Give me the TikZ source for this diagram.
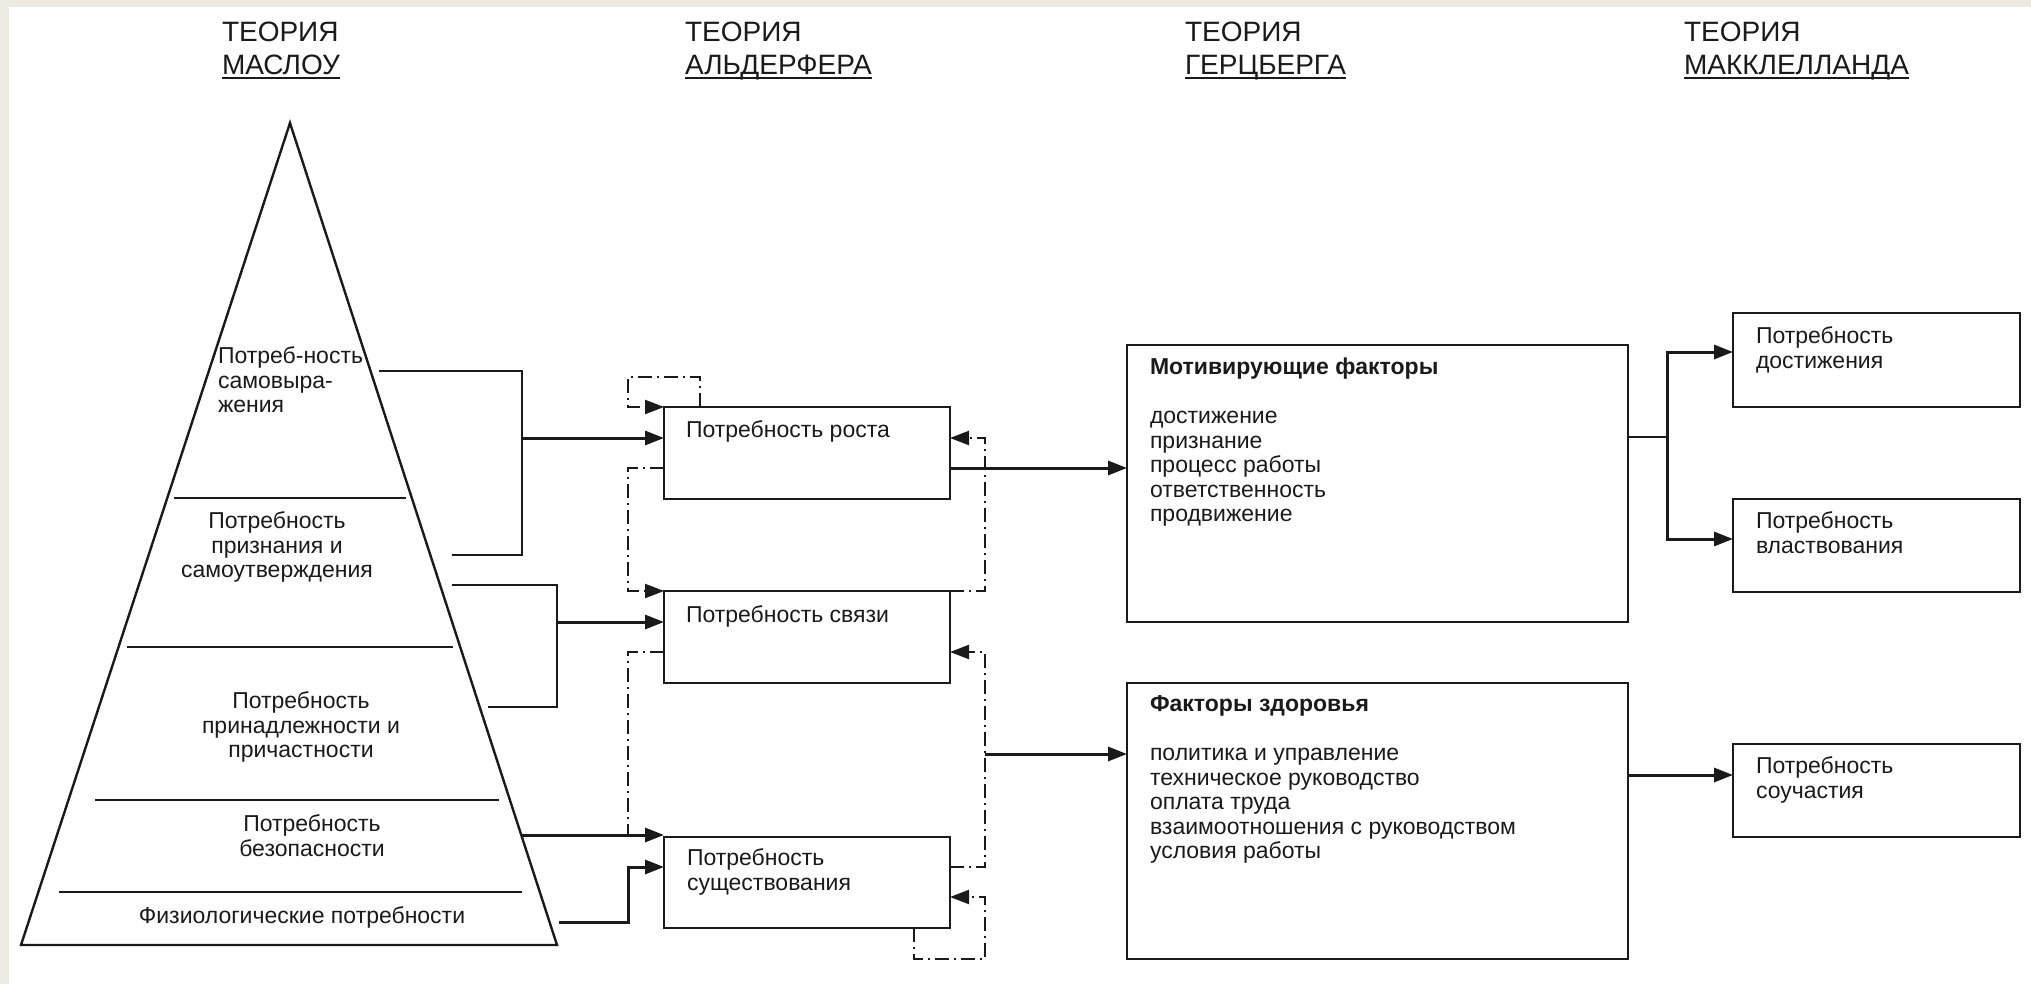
\documentclass[tikz,border=0pt]{standalone}
\usepackage{fontspec}
\setmainfont{Liberation Sans}
\usetikzlibrary{arrows.meta}
\definecolor{ink}{HTML}{1A1A1A}
\definecolor{frame}{HTML}{EEEBE3}

\begin{document}
\begin{tikzpicture}[x=1pt,y=-1pt,
  box/.style={draw=ink, line width=2.7pt, rectangle, inner sep=0pt, outer sep=0pt, anchor=north west},
  txt/.style={inner sep=0pt, outer sep=0pt, text=ink, font=\fontsize{23}{24.5}\selectfont},
  head/.style={inner sep=0pt, outer sep=0pt, text=ink, font=\fontsize{28}{30}\selectfont, anchor=base west},
  conn/.style={draw=ink, line width=2.2pt},
  arr/.style={draw=ink, line width=3pt, -{Triangle[length=19pt,width=14pt]}},
  dd/.style={draw=ink, line width=2.2pt, dash pattern=on 14pt off 5pt on 2pt off 5pt},
  ddarr/.style={dd, -{Triangle[length=19pt,width=14pt]}},
]
\useasboundingbox (0,0) rectangle (2031,984);
\fill[white] (0,0) rectangle (2031,984);
\fill[frame] (0,0) rectangle (2031,7);
\fill[frame] (0,0) rectangle (9,984);

% ---------- column headings ----------
\node[head] (h1a) at (222,42) {ТЕОРИЯ};
\node[head] (h1b) at (222,75) {МАСЛОУ};
\node[head] (h2a) at (685,42) {ТЕОРИЯ};
\node[head] (h2b) at (685,75) {АЛЬДЕРФЕРА};
\node[head] (h3a) at (1185,42) {ТЕОРИЯ};
\node[head] (h3b) at (1185,75) {ГЕРЦБЕРГА};
\node[head] (h4a) at (1684,42) {ТЕОРИЯ};
\node[head] (h4b) at (1684,75) {МАККЛЕЛЛАНДА};
\foreach \h in {h1b,h2b,h3b,h4b}
  \draw[ink, line width=2.2pt] ([yshift=-3pt]\h.base west) -- ([yshift=-3pt]\h.base east);

% ---------- Maslow pyramid ----------
\draw[ink, line width=2.4pt, line join=miter] (290,123) -- (557,945) -- (21,945) -- cycle;
\draw[conn] (174,498) -- (406,498);
\draw[conn] (127,647) -- (453,647);
\draw[conn] (95,800) -- (499,800);
\draw[conn] (59,892) -- (522,892);

\node[txt, anchor=north west, align=left] (m1) at (218,347) {Потреб-ность\\самовыра-\\жения};
\node[txt, anchor=north, align=center] (m2) at (277,512) {Потребность\\признания и\\самоутверждения};
\node[txt, anchor=north, align=center] (m3) at (301,692) {Потребность\\принадлежности и\\причастности};
\node[txt, anchor=north, align=center] (m4) at (312,815) {Потребность\\безопасности};
\node[txt, anchor=base] (m5) at (302,923) {Физиологические потребности};

% ---------- Alderfer boxes ----------
\node[box, minimum width=286pt, minimum height=92pt] (rost) at (664,407) {};
\node[box, minimum width=286pt, minimum height=92pt] (svyaz) at (664,591) {};
\node[box, minimum width=286pt, minimum height=91pt] (sush) at (664,837) {};
\node[txt, anchor=base west] (trost) at (686,437) {Потребность роста};
\node[txt, anchor=base west] (tsvyaz) at (686,622) {Потребность связи};
\node[txt, anchor=north west, align=left] (tsush) at (687,849) {Потребность\\существования};

% ---------- Herzberg boxes ----------
\node[box, minimum width=501pt, minimum height=277pt] (motiv) at (1127,345) {};
\node[box, minimum width=501pt, minimum height=276pt] (health) at (1127,683) {};
\node[txt, anchor=north west, align=left] (tmotiv) at (1150,358)
  {\textbf{Мотивирующие факторы}\\[24.5pt]достижение\\признание\\процесс работы\\ответственность\\продвижение};
\node[txt, anchor=north west, align=left] (thealth) at (1150,696)
  {\textbf{Факторы здоровья}\\[24.5pt]политика и управление\\техническое руководство\\оплата труда\\взаимоотношения с руководством\\условия работы};

% ---------- McClelland boxes ----------
\node[box, minimum width=287pt, minimum height=94pt] (dost) at (1733,313) {};
\node[box, minimum width=287pt, minimum height=93pt] (vlast) at (1733,499) {};
\node[box, minimum width=287pt, minimum height=93pt] (souch) at (1733,744) {};
\node[txt, anchor=north west, align=left] (tdost) at (1756,327) {Потребность\\достижения};
\node[txt, anchor=north west, align=left] (tvlast) at (1756,512) {Потребность\\властвования};
\node[txt, anchor=north west, align=left] (tsouch) at (1756,757) {Потребность\\соучастия};

% ---------- pyramid levels to Alderfer needs ----------
\coordinate (p1) at (379,371);
\coordinate (p2) at (452,555);
\coordinate (j1) at (522,438);
\coordinate (p3) at (452,585);
\coordinate (p4) at (488,707);
\coordinate (j2) at (557,622);
\coordinate (p5) at (522,835);
\coordinate (p6) at (559,922);

\draw[conn] (p1) -- (p1 -| j1) -- (p2 -| j1) -- (p2);
\draw[arr] (j1) -- (j1 -| rost.west);
\draw[conn] (p3) -- (p3 -| j2) -- (p4 -| j2) -- (p4);
\draw[arr] (j2) -- (j2 -| svyaz.west);
\draw[arr] (p5) -- (p5 -| sush.west);
\coordinate (sin) at ([yshift=15.5pt]sush.west);
\draw[arr] (p6) -- (628,922) -- (628,867) -- (sin);

% ---------- Alderfer transitions (dash-dot) ----------
\draw[ddarr] ([xshift=36pt]rost.north west) -- ++(0,-30) -- (628,377) -- (628,407) -- (rost.north west);
\draw[ddarr] ([yshift=-15pt]rost.west) -- (628,468) -- (628,591) -- (svyaz.north west);
\draw[ddarr] (svyaz.north east) -- (985,591) -- (985,438) -- ([yshift=15pt]rost.east);
\draw[dd] ([yshift=-15pt]svyaz.west) -- (628,652) -- (628,835);
\draw[ddarr] ([yshift=15.5pt]sush.east) -- (985,867) -- (985,652) -- ([yshift=-15pt]svyaz.east);
\draw[ddarr] ([xshift=-36pt]sush.south east) -- ++(0,31) -- (985,959) -- (985,897) -- ([yshift=-14.5pt]sush.east);

% ---------- links to Herzberg factors ----------
\coordinate (ro) at ([yshift=-15pt]rost.east);
\draw[arr] (ro) -- (ro -| motiv.west);
\coordinate (hb) at (985,754);
\draw[arr] (hb) -- (hb -| health.west);

% ---------- links to McClelland needs ----------
\coordinate (mo) at (1628,437);
\coordinate (mj) at (1667,437);
\coordinate (dw) at ([yshift=8pt]dost.west);
\coordinate (vw) at ([yshift=6.5pt]vlast.west);
\draw[conn] (mo) -- (mj);
\draw[arr] (mj) |- (dw);
\draw[arr] (mj) |- (vw);
\coordinate (ho) at (1628,775);
\draw[arr] (ho) -- (ho -| souch.west);
\end{tikzpicture}
\end{document}
